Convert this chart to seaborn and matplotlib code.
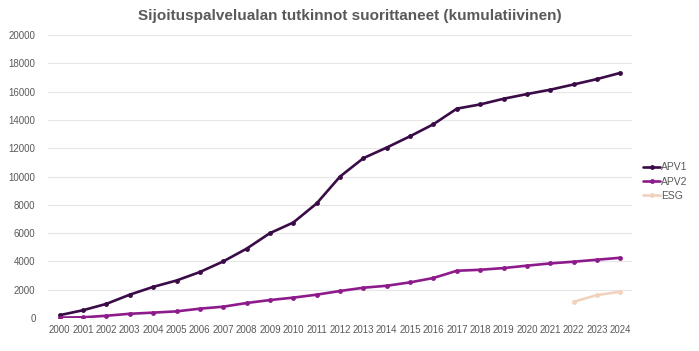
import pandas as pd
import seaborn as sns
import matplotlib.pyplot as plt
import numpy as np

# Data
years = list(range(2000, 2025))
apv1 = [200, 550, 1000, 1650, 2200, 2650, 3250, 4000, 4900, 6000, 6750, 8100,
        10000, 11300, 12050, 12850, 13700, 14800, 15100, 15500, 15830, 16140,
        16510, 16890, 17330]
apv2 = [30, 50, 160, 300, 380, 470, 660, 800, 1060, 1270, 1440, 1650, 1910,
        2140, 2280, 2520, 2830, 3340, 3410, 3530, 3700, 3860, 3980, 4120, 4260]
esg_years = [2022, 2023, 2024]
esg = [1150, 1620, 1860]

series = ["APV1", "APV2", "ESG"]
colors = ["#3a0b47", "#8e1b8c", "#f1d3bd"]

df = pd.concat([
    pd.DataFrame({"Vuosi": years, "Määrä": apv1, "Sarja": "APV1"}),
    pd.DataFrame({"Vuosi": years, "Määrä": apv2, "Sarja": "APV2"}),
    pd.DataFrame({"Vuosi": esg_years, "Määrä": esg, "Sarja": "ESG"}),
])

sns.set_style("white")
plt.rcParams["font.family"] = ["Liberation Sans", "DejaVu Sans"]

fig = plt.figure(figsize=(6.99, 3.51), dpi=100)
ax = fig.add_axes([0.0687, 0.094, 0.8355, 0.806])

sns.lineplot(data=df, x="Vuosi", y="Määrä", hue="Sarja", hue_order=series,
             palette=dict(zip(series, colors)), marker="o", markersize=3.5,
             markeredgewidth=0, linewidth=1.9, ax=ax)

ax.set_xlim(1999.5, 2024.5)
ax.set_ylim(0, 20000)
ax.set_yticks(range(0, 20001, 2000))
ax.set_xticks(years)
ax.set_xticklabels([str(y) for y in years])
ax.grid(axis="y", color="#e6e6e6", linewidth=0.8)
ax.set_axisbelow(True)
for s in ax.spines.values():
    s.set_visible(False)
ax.tick_params(axis="both", length=0, labelsize=7, colors="#595959")
ax.tick_params(axis="y", pad=9)
ax.tick_params(axis="x", pad=5)
ax.set_xlabel("")
ax.set_ylabel("")

fig.suptitle("Sijoituspalvelualan tutkinnot suorittaneet (kumulatiivinen)",
             x=0.5, y=0.975, fontsize=11, fontweight="bold", color="#595959")

leg = ax.legend(loc="center left", bbox_to_anchor=(1.012, 0.482), frameon=False,
                fontsize=7.5, handlelength=1.6, handletextpad=0.1,
                labelspacing=0.4, borderaxespad=0)
for t in leg.get_texts():
    t.set_color("#595959")

plt.savefig("out.png", dpi=100)
